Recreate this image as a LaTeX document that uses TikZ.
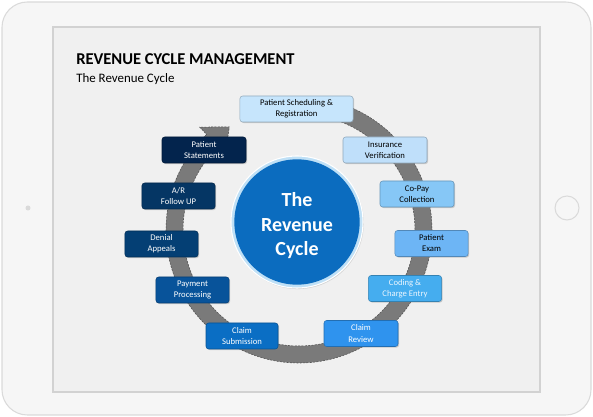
\documentclass[tikz,border=0pt]{standalone}
\usepackage{fontspec}
\setmainfont{Carlito}
\usetikzlibrary{shadows}

\definecolor{tabbg}{HTML}{F6F6F6}
\definecolor{tabedge}{HTML}{DADADA}
\definecolor{scrbg}{HTML}{F0F0F0}
\definecolor{scredge}{HTML}{D2D2D2}
\definecolor{anello}{HTML}{7A7A7A}
\definecolor{anellobordo}{HTML}{505050}
\definecolor{cschedule}{HTML}{C6E5FC}
\definecolor{cinsur}{HTML}{BFDFFA}
\definecolor{ccopay}{HTML}{86C7F6}
\definecolor{cexam}{HTML}{6DB5F5}
\definecolor{ccoding}{HTML}{45ADEF}
\definecolor{creview}{HTML}{2F93EE}
\definecolor{csubmit}{HTML}{0A6EC4}
\definecolor{cpayment}{HTML}{08539A}
\definecolor{cdenial}{HTML}{043F74}
\definecolor{carfollow}{HTML}{053664}
\definecolor{cstatem}{HTML}{03244D}
\definecolor{cblu}{HTML}{0B6CBF}
\definecolor{cbluring}{HTML}{BFE0F6}

\tikzset{
  passo/.style={draw=#1!75!black, fill=#1, line width=0.4pt, rounded corners=2pt,
    align=center, minimum height=19.5pt, inner sep=1pt,
    font=\fontsize{6.5}{8.3}\selectfont,
    drop shadow={shadow xshift=0.8pt, shadow yshift=-0.8pt, opacity=0.35}},
}

\begin{document}
\begin{tikzpicture}[x=0.75pt,y=0.75pt]
  \useasboundingbox (0,0) rectangle (593,417);

  % Cornice
  \draw[tabedge, fill=tabbg, line width=0.8pt, rounded corners=19pt] (2,2) rectangle (591,415);
  \draw[scredge, fill=scrbg, line width=0.8pt] (53,25) rectangle (540,390);
  \draw[tabedge, fill=tabbg, line width=0.8pt] (567,209) circle[radius=12];
  \fill[tabedge] (28,209) circle[radius=2.5];

  % Titolo
  \node[anchor=base west, inner sep=0pt, font=\fontsize{12.4}{14}\selectfont\bfseries] (titolo) at (76,352) {REVENUE CYCLE MANAGEMENT};
  \node[anchor=base west, inner sep=0pt, font=\fontsize{9.7}{11}\selectfont] (sottotitolo) at (76,334) {The Revenue Cycle};

  % Anello
  \begin{scope}[shift={(299,187)}]
    \filldraw[fill=anello, draw=anellobordo, line width=0.4pt, dash pattern=on 1.5pt off 1pt]
      (95:133) arc[start angle=95, end angle=-226, radius=133]
      -- (134:143) -- (124:124.5) -- (134:106) -- (134:116)
      arc[start angle=-226, end angle=95, radius=116] -- cycle;
  \end{scope}

  % Nodi
  \node[passo=cschedule, minimum width=84.8pt, text=black] (sched) at (296.5,308) {Patient Scheduling \&\\Registration};
  \node[passo=cinsur, minimum width=63pt, text=black] (insur) at (385,267) {Insurance\\Verification};
  \node[passo=ccopay, minimum width=55.5pt, text=black] (copay) at (417,223) {Co-Pay\\Collection};
  \node[passo=cexam, minimum width=54.8pt, text=black] (exam) at (431.5,173.5) {Patient\\Exam};
  \node[passo=ccoding, minimum width=54.8pt, text=white!88!cexam] (coding) at (405,128.5) {Coding \&\\Charge Entry};
  \node[passo=creview, minimum width=55.5pt, text=white] (review) at (361,83.5) {Claim\\Review};
  \node[passo=csubmit, minimum width=54pt, text=white] (submit) at (242,81) {Claim\\Submission};
  \node[passo=cpayment, minimum width=54.8pt, text=white] (payment) at (192.5,127) {Payment\\Processing};
  \node[passo=cdenial, minimum width=54.8pt, text=white] (denial) at (161.5,173) {Denial\\Appeals};
  \node[passo=carfollow, minimum width=54.8pt, text=white] (arfollow) at (178.5,221) {A/R\\Follow UP};
  \node[passo=cstatem, minimum width=63pt, text=white] (statem) at (204,267) {Patient\\Statements};

  % Centro
  \node[circle, fill=cbluring, draw=white, line width=0.8pt, minimum size=99pt, inner sep=0pt,
    drop shadow={shadow xshift=0.6pt, shadow yshift=-0.8pt, opacity=0.25}] (alone) at (297,195) {};
  \node[circle, fill=cblu, minimum size=94pt, inner sep=0pt] (centro) at (alone) {};
  \node[text=white, align=center, font=\fontsize{15}{18.4}\selectfont\bfseries] (testo) at (297,191) {The\\Revenue\\Cycle};
\end{tikzpicture}
\end{document}
